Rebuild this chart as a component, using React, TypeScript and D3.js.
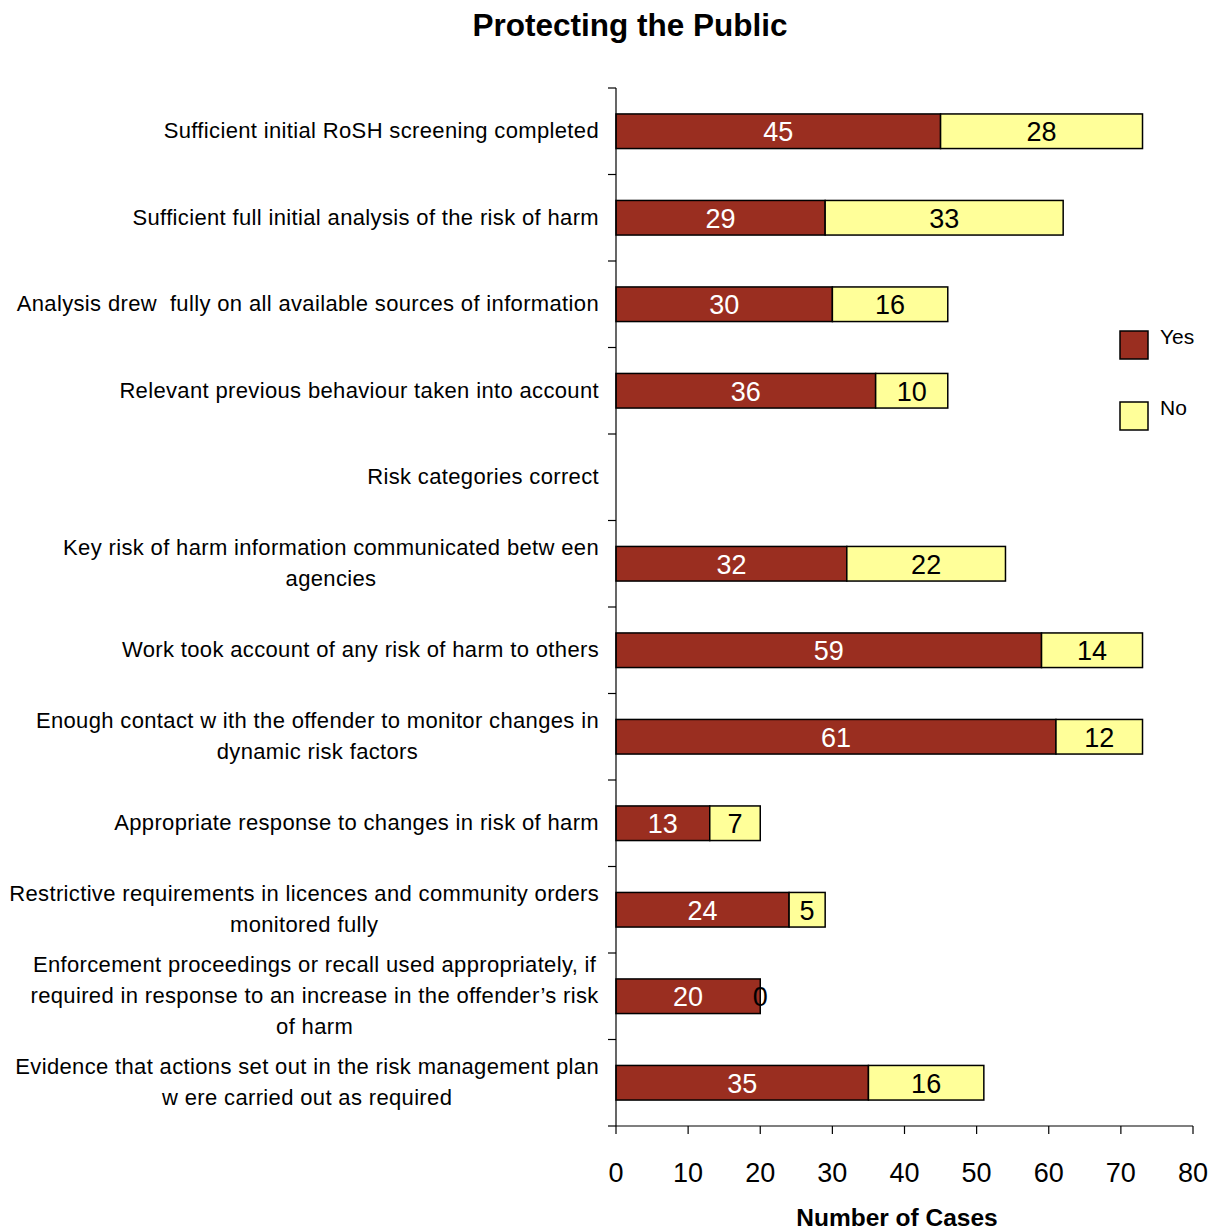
import React, { useEffect, useRef } from "react";
import * as d3 from "d3";

const categories: string[][] = [
  ["Sufficient initial RoSH screening completed"],
  ["Sufficient full initial analysis of the risk of harm"],
  ["Analysis drew  fully on all available sources of information"],
  ["Relevant previous behaviour taken into account"],
  ["Risk categories correct"],
  ["Key risk of harm information communicated betw een", "agencies"],
  ["Work took account of any risk of harm to others"],
  ["Enough contact w ith the offender to monitor changes in", "dynamic risk factors"],
  ["Appropriate response to changes in risk of harm"],
  ["Restrictive requirements in licences and community orders", "monitored fully"],
  ["Enforcement proceedings or recall used appropriately, if", "required in response to an increase in the offender\u2019s risk", "of harm"],
  ["Evidence that actions set out in the risk management plan", "w ere carried out as required"],
];
const yesValues: (number | null)[] = [45, 29, 30, 36, null, 32, 59, 61, 13, 24, 20, 35];
const noValues: (number | null)[] = [28, 33, 16, 10, null, 22, 14, 12, 7, 5, 0, 16];
const xTicks: number[] = [0, 10, 20, 30, 40, 50, 60, 70, 80];
const seriesNames = ["Yes", "No"];
const seriesColors = ["#9A2E20", "#FFFF99"];

const W = 1213;
const H = 1230;
const FONT = "'Liberation Sans', Arial, sans-serif";

export default function App() {
  const ref = useRef<SVGSVGElement>(null);
  useEffect(() => {
    const svg = d3.select(ref.current);
    svg.selectAll("*").remove();
    const left = 616, right = 1193, top = 88, bottom = 1126;
    const x = d3.scaleLinear().domain([0, 80]).range([left, right]);
    const y = d3
      .scaleBand<number>()
      .domain(categories.map((_, i) => i))
      .range([top, bottom])
      .paddingInner(0.6)
      .paddingOuter(0.3);
    const step = y.step();

    svg
      .append("text")
      .attr("x", 630)
      .attr("y", 36)
      .attr("text-anchor", "middle")
      .attr("font-family", FONT)
      .attr("font-weight", "bold")
      .attr("font-size", 31.5)
      .text("Protecting the Public");

    // bars
    categories.forEach((_, i) => {
      const yv = yesValues[i];
      const nv = noValues[i];
      const by = y(i)!;
      const bh = y.bandwidth();
      const cy = by + bh / 2;
      if (yv !== null) {
        svg
          .append("rect")
          .attr("x", x(0))
          .attr("y", by)
          .attr("width", x(yv) - x(0))
          .attr("height", bh)
          .attr("fill", seriesColors[0])
          .attr("stroke", "#000")
          .attr("stroke-width", 1.5);
      }
      if (yv !== null && nv !== null && nv > 0) {
        svg
          .append("rect")
          .attr("x", x(yv))
          .attr("y", by)
          .attr("width", x(yv + nv) - x(yv))
          .attr("height", bh)
          .attr("fill", seriesColors[1])
          .attr("stroke", "#000")
          .attr("stroke-width", 1.5);
      }
      if (yv !== null) {
        svg
          .append("text")
          .attr("x", (x(0) + x(yv)) / 2)
          .attr("y", cy + 10)
          .attr("text-anchor", "middle")
          .attr("font-family", FONT)
          .attr("font-size", 27)
          .attr("fill", "#fff")
          .text(String(yv));
      }
      if (yv !== null && nv !== null) {
        svg
          .append("text")
          .attr("x", (x(yv) + x(yv + nv)) / 2)
          .attr("y", cy + 10)
          .attr("text-anchor", "middle")
          .attr("font-family", FONT)
          .attr("font-size", 27)
          .attr("fill", "#000")
          .text(String(nv));
      }
    });

    // axes
    svg
      .append("line")
      .attr("x1", left)
      .attr("x2", left)
      .attr("y1", top)
      .attr("y2", bottom)
      .attr("stroke", "#000")
      .attr("stroke-width", 1.2);
    for (let k = 0; k <= categories.length; k++) {
      const ty = top + k * step;
      svg
        .append("line")
        .attr("x1", left - 8)
        .attr("x2", left)
        .attr("y1", ty)
        .attr("y2", ty)
        .attr("stroke", "#000")
        .attr("stroke-width", 1.2);
    }
    svg
      .append("line")
      .attr("x1", left)
      .attr("x2", right)
      .attr("y1", bottom)
      .attr("y2", bottom)
      .attr("stroke", "#000")
      .attr("stroke-width", 1.2);
    xTicks.forEach((t) => {
      svg
        .append("line")
        .attr("x1", x(t))
        .attr("x2", x(t))
        .attr("y1", bottom)
        .attr("y2", bottom + 8)
        .attr("stroke", "#000")
        .attr("stroke-width", 1.2);
      svg
        .append("text")
        .attr("x", x(t))
        .attr("y", 1182)
        .attr("text-anchor", "middle")
        .attr("font-family", FONT)
        .attr("font-size", 27)
        .text(String(t));
    });
    svg
      .append("text")
      .attr("x", 897)
      .attr("y", 1226)
      .attr("text-anchor", "middle")
      .attr("font-family", FONT)
      .attr("font-weight", "bold")
      .attr("font-size", 24.5)
      .text("Number of Cases");

    // category labels
    const lineH = 31;
    categories.forEach((lines, i) => {
      const cy = y(i)! + y.bandwidth() / 2;
      const t = svg
        .append("text")
        .attr("font-family", FONT)
        .attr("font-size", 22)
        .attr("letter-spacing", 0.35)
        .attr("text-anchor", "middle")
        .style("white-space", "pre")
        .attr("fill", "#000");
      const n = lines.length;
      lines.forEach((ln, j) => {
        t.append("tspan")
          .attr("x", 0)
          .attr("y", cy + 7 + (j - (n - 1) / 2) * lineH)
          .text(ln);
      });
      const node = t.node() as SVGTextElement;
      let w = 0;
      try {
        w = node.getBBox().width;
      } catch (e) {
        w = 400;
      }
      t.attr("transform", `translate(${599 - w / 2},0)`);
    });

    // legend
    seriesNames.forEach((s, i) => {
      const ly = 331 + i * 71;
      svg
        .append("rect")
        .attr("x", 1120)
        .attr("y", ly)
        .attr("width", 28)
        .attr("height", 28)
        .attr("fill", seriesColors[i])
        .attr("stroke", "#000")
        .attr("stroke-width", 1.5);
      svg
        .append("text")
        .attr("x", 1160)
        .attr("y", ly + 13)
        .attr("font-family", FONT)
        .attr("font-size", 21)
        .text(s);
    });
  }, []);
  return (
    <svg
      ref={ref}
      width={W}
      height={H}
      style={{ position: "absolute", left: 0, top: 0, background: "#fff" }}
    />
  );
}
